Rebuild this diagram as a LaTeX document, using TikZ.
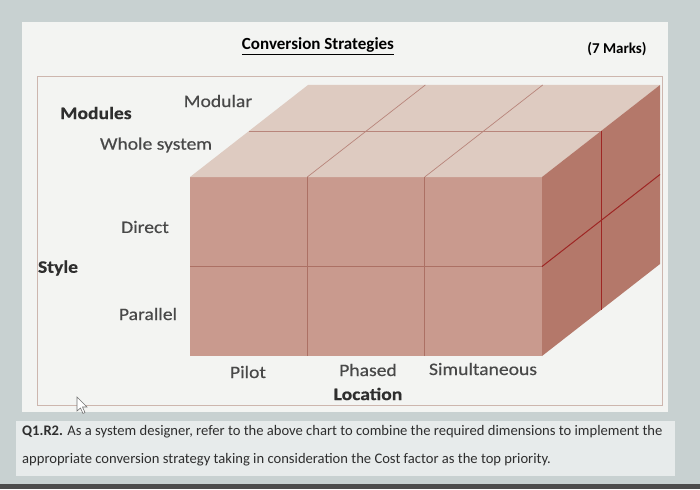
\documentclass[tikz,border=0pt]{standalone}
\usepackage{fontspec}
\setmainfont{Carlito}
\newfontfamily\lblfont[FakeStretch=1.12,FakeBold=0.4]{Carlito}
\usepackage{tikz}
\definecolor{screen}{RGB}{200,209,209}
\definecolor{page}{RGB}{243,244,242}
\definecolor{band}{RGB}{231,235,235}
\definecolor{frameline}{RGB}{205,182,174}
\definecolor{frontc}{RGB}{201,154,142}
\definecolor{topc}{RGB}{222,203,193}
\definecolor{sidec}{RGB}{180,120,106}
\definecolor{gridc}{RGB}{172,112,100}
\definecolor{sidegrid}{RGB}{158,38,36}
\definecolor{lblgray}{RGB}{72,72,72}
\tikzstyle{lbl} = [font=\lblfont\fontsize{17.5}{20}\selectfont, text=lblgray, inner sep=0pt]
\tikzstyle{head} = [font=\lblfont\fontsize{17.5}{20}\selectfont\bfseries, text=black!82, inner sep=0pt]
\tikzstyle{qtext} = [font=\fontsize{14.6}{17}\selectfont, text=black!82, inner sep=0pt, anchor=west]
\begin{document}
\begin{tikzpicture}[x=1pt,y=-1pt]
\useasboundingbox (0,0) rectangle (700,489);
\fill[screen] (0,0) rectangle (700,489);
\fill[black!70] (0,484) rectangle (700,489);
\fill[page] (22,22) rectangle (668,412);
\draw[frameline, line width=0.8pt] (37,76) rectangle (662,405);
\fill[band] (16,421) rectangle (675,476);

\coordinate (fa) at (190,177);
\coordinate (fb) at (542,177);
\coordinate (fc) at (542,356);
\coordinate (fd) at (190,356);
\coordinate (ba) at (308,85);
\coordinate (bb) at (660,85);
\coordinate (bc) at (660,264);
\fill[frontc] (fa) -- (fb) -- (fc) -- (fd) -- cycle;
\fill[topc] (fa) -- (ba) -- (bb) -- (fb) -- cycle;
\fill[sidec] (fb) -- (bb) -- (bc) -- (fc) -- cycle;
\foreach \x in {307.3,424.7} {
    \draw[gridc, line width=0.7pt] (\x,177) -- (\x,356);
    \draw[gridc!85, line width=0.7pt] (\x,177) -- (\x+118,85);
}
\draw[gridc, line width=0.7pt] (190,266.5) -- (542,266.5);
\draw[gridc!85, line width=0.7pt] (249,131) -- (601,131);
\draw[sidegrid, line width=1pt] (601,131) -- (601,310);
\draw[sidegrid, line width=1pt] (542,266.5) -- (660,174.5);

\node (title) at (318,46) {\fontsize{17}{20}\selectfont\bfseries\underline{Conversion Strategies}};
\node (marks) at (617,49) {\fontsize{15}{18}\selectfont\bfseries (7 Marks)};

\node[head] (modules) at (96,113) {Modules};
\node[lbl] (modular) at (218,101) {Modular};
\node[lbl] (whole) at (156,145) {Whole system};
\node[lbl] (direct) at (145,227) {Direct};
\node[head] (style) at (58,268) {Style};
\node[lbl] (parallel) at (148,314) {Parallel};
\node[lbl] (pilot) at (248,372) {Pilot};
\node[lbl] (phased) at (368,370) {Phased};
\node[lbl] (simult) at (483,369) {Simultaneous};
\node[head] (location) at (368,394) {Location};

\draw[black!55, fill=white, line width=0.6pt] (77,397) -- (77,411) -- (80.5,408) -- (83,413.5) -- (85,412.5) -- (82.5,407) -- (87,407) -- cycle;

\node[qtext] (qline1) at (22,432) {\textbf{Q1.R2.} As a system designer, refer to the above chart to combine the required dimensions to implement the};
\node[qtext] (qline2) at (22,460) {appropriate conversion strategy taking in consideration the Cost factor as the top priority.};
\end{tikzpicture}
\end{document}
